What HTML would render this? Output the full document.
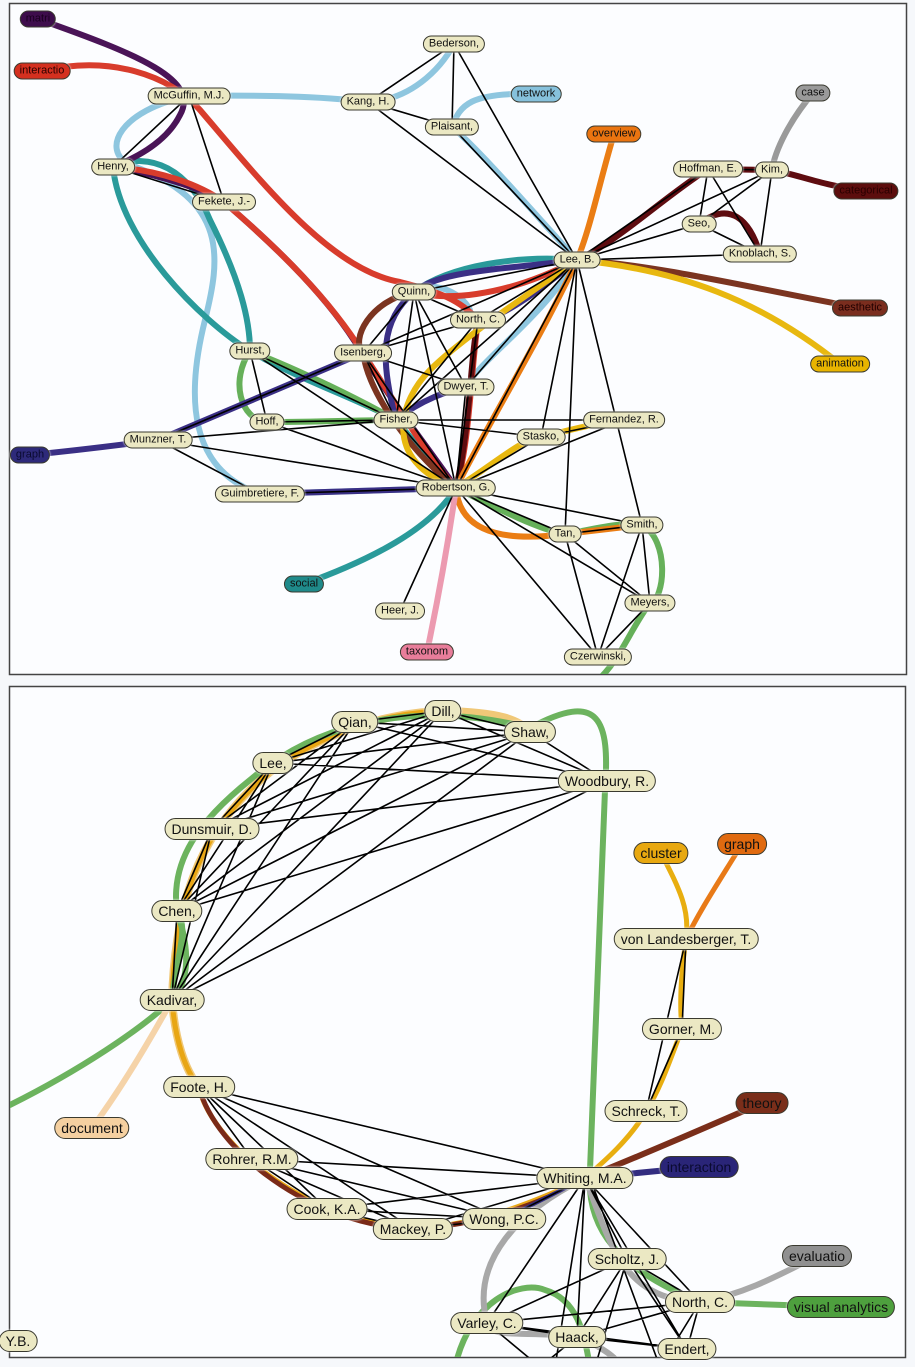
<!DOCTYPE html>
<html><head><meta charset="utf-8"><style>
html,body{margin:0;padding:0;background:#f6f8fb;width:915px;height:1367px;overflow:hidden;position:relative;font-family:"Liberation Sans",sans-serif}
svg{position:absolute;left:0;top:0}
.n{position:absolute;transform:translate(-50%,-50%);background:#ebe8c3;border:1.5px solid #3a3a30;border-radius:10px;padding:1px 5px;font-size:11px;line-height:13px;white-space:nowrap;color:#111;box-shadow:0 0 2px #fff}
.b{font-size:14px;line-height:18px;padding:1px 6px;border-radius:12px}
</style></head><body>
<svg width="915" height="1367" viewBox="0 0 915 1367">
<defs>
<clipPath id="c1"><rect x="10" y="4" width="896" height="670"/></clipPath>
<clipPath id="c2"><rect x="10" y="687" width="895" height="670"/></clipPath>
</defs>
<rect x="9.5" y="3.5" width="897" height="671" fill="#fcfdff" stroke="#444" stroke-width="1.5"/>
<rect x="9.5" y="686.5" width="896" height="671" fill="#fcfdff" stroke="#444" stroke-width="1.5"/>
<g clip-path="url(#c1)" fill="none" stroke-linecap="round">
<g stroke="#8ec6df" stroke-width="6">
<path d="M189,96 C260,95 320,96 368,102 C410,100 440,70 454,44"/>
<path d="M536,94 C470,92 460,105 452,127 C480,150 540,220 577,260"/>
<path d="M189,96 C120,110 100,150 130,165 C230,200 220,260 205,320 C185,400 190,470 260,494 L456,488"/>
<path d="M577,260 C540,320 480,360 466,387"/>
<path d="M414,292 C430,280 460,290 470,310"/>
</g>
<g stroke="#2a9a9a" stroke-width="6">
<path d="M113,167 C150,150 190,170 210,220 C240,280 250,320 250,351 C300,380 360,400 396,420 C420,450 440,470 456,488"/>
<path d="M113,167 C120,240 200,320 250,351"/>
<path d="M414,292 C450,265 520,255 577,260"/>
<path d="M304,584 C370,560 430,530 456,488"/>
</g>
<g stroke="#66b05a" stroke-width="6">
<path d="M250,351 C230,380 240,420 267,422 C320,422 360,420 396,420"/>
<path d="M250,351 C300,370 360,400 396,420"/>
<path d="M456,488 C500,510 540,530 565,534 C600,528 620,522 642,525 C670,540 665,600 650,603 C630,630 620,660 598,680"/>
</g>
<path d="M38,19 C140,55 200,80 180,115 C165,145 130,160 113,167 C160,175 200,188 224,202 C280,250 330,300 360,350 C390,400 430,450 456,488" stroke="#4a1457" stroke-width="6"/>
<g stroke="#d83c2c" stroke-width="6">
<path d="M42,71 C110,55 170,75 200,110 C260,180 330,270 400,282 C440,292 460,300 478,320 C470,380 470,440 456,488"/>
<path d="M113,167 C160,170 200,185 224,202 C280,250 330,300 363,353 C400,410 430,460 456,488"/>
<path d="M414,292 C440,300 500,300 577,260"/>
</g>
<g stroke="#7b3420" stroke-width="6">
<path d="M860,308 C760,290 660,265 577,260"/>
<path d="M414,292 C370,300 350,340 363,353 C370,400 420,460 456,488"/>
</g>
<g stroke="#5e0c10" stroke-width="6">
<path d="M866,191 C820,185 800,175 772,170 L708,169 C660,200 620,240 577,260"/>
<path d="M699,224 C730,200 750,220 760,254"/>
<path d="M478,320 C470,360 470,430 456,488"/>
</g>
<g stroke="#3a2f85" stroke-width="6">
<path d="M30,455 C80,450 120,445 158,440 C230,410 300,380 363,353"/>
<path d="M260,494 L456,488"/>
<path d="M577,260 C500,270 440,270 414,292 C380,320 380,360 396,420 C420,400 450,390 466,387"/>
<path d="M577,260 C540,290 500,320 478,320"/>
</g>
<g stroke="#ea7d14" stroke-width="6">
<path d="M614,134 C600,180 590,230 577,260 C540,340 490,420 456,488 C460,540 520,540 565,534 L642,525"/>
</g>
<g stroke="#e8b810" stroke-width="6">
<path d="M840,364 C760,300 680,270 577,260 C520,300 460,340 430,370 C400,400 380,460 456,488 C500,460 520,440 541,437 C570,430 600,422 624,420"/>
</g>
<path d="M427,652 C440,590 450,530 456,488" stroke="#ec9ab0" stroke-width="6"/>
<path d="M813,93 C790,120 775,150 772,170" stroke="#9a9a9a" stroke-width="6"/>
<path stroke="#000" stroke-width="1.6" d="M189,96L113,167M189,96L224,202M113,167L224,202M368,102L454,44M368,102L452,127M368,102L577,260M454,44L452,127M454,44L577,260M452,127L577,260
M708,169L772,170M708,169L699,224M708,169L760,254M772,170L699,224M772,170L760,254M699,224L760,254M708,169L577,260M772,170L577,260M699,224L577,260M760,254L577,260
M577,260L414,292M577,260L478,320M577,260L363,353M577,260L466,387M577,260L396,420M577,260L456,488M577,260L541,437M577,260L565,534M577,260L642,525
M414,292L478,320M414,292L363,353M414,292L396,420M414,292L466,387M414,292L456,488M478,320L363,353M478,320L396,420M478,320L456,488M363,353L466,387M363,353L396,420M363,353L456,488
M250,351L267,422M250,351L396,420M250,351L456,488M267,422L396,420M267,422L456,488M158,440L363,353M158,440L456,488M158,440L396,420M158,440L260,494
M396,420L456,488M396,420L624,420M396,420L541,437M541,437L624,420M541,437L456,488M624,420L456,488M466,387L456,488M260,494L456,488
M456,488L400,611M456,488L565,534M456,488L642,525M456,488L650,603M456,488L598,657M565,534L642,525M565,534L650,603M565,534L598,657M642,525L650,603M642,525L598,657M650,603L598,657"/>
</g>
<g clip-path="url(#c2)" fill="none" stroke-linecap="round">
<path d="M443,711 C380,712 300,740 250,790 C200,840 175,900 172,1000 C175,1040 185,1070 199,1087" stroke="#f0c878" stroke-width="8"/>
<path d="M443,711 C380,712 300,740 250,790 C200,840 175,900 172,1000 C175,1040 185,1070 199,1087 C210,1140 300,1220 413,1229 C480,1225 540,1200 585,1178" stroke="#e8a614" stroke-width="5"/>
<path d="M199,1087 C215,1150 310,1225 413,1229 C480,1225 540,1205 585,1178" stroke="#7a2a18" stroke-width="5"/>
<path d="M443,711 C500,712 520,720 530,732" stroke="#f0c878" stroke-width="8"/>
<g stroke="#6cb35e" stroke-width="6">
<path d="M10,1105 C80,1070 140,1030 172,1000 C175,960 190,930 177,911 C170,860 200,820 250,780 C320,720 420,700 530,728 C600,690 610,720 605,790 L590,1170 C585,1230 620,1270 700,1302 L841,1307"/>
<path d="M177,911 C190,950 190,980 172,1000"/>
<path d="M455,1367 C470,1300 520,1280 545,1290 C580,1300 585,1340 590,1367"/>
</g>
<path d="M92,1128 C120,1090 150,1040 172,1000" stroke="#f5d3a8" stroke-width="6"/>
<g stroke="#a8a8a8" stroke-width="6">
<path d="M817,1256 C770,1280 740,1295 700,1302 C620,1300 610,1240 585,1178"/>
<path d="M585,1178 C520,1210 470,1260 487,1323 C490,1340 530,1330 577,1337 C600,1345 620,1360 620,1367"/>
</g>
<path d="M661,853 C680,890 690,910 686,939 C680,980 680,1010 682,1029 C670,1060 660,1090 646,1111 C630,1140 600,1165 585,1178" stroke="#e8ae10" stroke-width="5"/>
<path d="M742,844 C720,880 700,910 686,939" stroke="#e87a18" stroke-width="5"/>
<path d="M762,1103 C700,1130 630,1160 585,1178" stroke="#7a2e1a" stroke-width="6"/>
<path d="M699,1167 L585,1178" stroke="#332d80" stroke-width="6"/>
<path d="M585,1178 L504,1219" stroke="#332d80" stroke-width="4"/>
<path stroke="#000" stroke-width="1.6" d="M355,722L443,711M355,722L530,732M355,722L273,763M355,722L607,781M355,722L212,829M355,722L177,911M355,722L172,1000
M443,711L530,732M443,711L273,763M443,711L607,781M443,711L212,829M443,711L177,911M443,711L172,1000
M530,732L273,763M530,732L607,781M530,732L212,829M530,732L177,911M530,732L172,1000
M273,763L607,781M273,763L212,829M273,763L177,911M273,763L172,1000
M607,781L212,829M607,781L177,911M607,781L172,1000M212,829L177,911M212,829L172,1000M177,911L172,1000
M686,939L682,1029M686,939L646,1111M682,1029L646,1111
M199,1087L252,1159M199,1087L327,1209M199,1087L413,1229M199,1087L504,1219M199,1087L585,1178
M252,1159L327,1209M252,1159L413,1229M252,1159L504,1219M252,1159L585,1178M327,1209L413,1229M327,1209L504,1219M327,1209L585,1178M413,1229L504,1219M413,1229L585,1178M504,1219L585,1178
M585,1178L627,1259M585,1178L700,1302M585,1178L487,1323M585,1178L577,1337M585,1178L687,1349M585,1178L555,1367M590,1178L660,1367
M627,1259L487,1323M627,1259L700,1302M627,1259L577,1337M627,1259L687,1349M627,1259L595,1367M487,1323L700,1302M487,1323L577,1337M487,1323L687,1349M487,1323L540,1367
M700,1302L577,1337M700,1302L687,1349M700,1302L660,1367M577,1337L687,1349M577,1337L540,1367"/>
</g>
</svg>

<div class="n" style="left:38px;top:19px;background:#3e0d4c;color:#1a0020">matri</div>
<div class="n" style="left:42px;top:71px;background:#d4301f;color:#2a0000">interactio</div>
<div class="n" style="left:189px;top:96px">McGuffin, M.J.</div>
<div class="n" style="left:368px;top:102px">Kang, H.</div>
<div class="n" style="left:454px;top:44px">Bederson,</div>
<div class="n" style="left:452px;top:127px">Plaisant,</div>
<div class="n" style="left:536px;top:94px;background:#86c1dc">network</div>
<div class="n" style="left:813px;top:93px;background:#9a9a9a">case</div>
<div class="n" style="left:614px;top:134px;background:#ea7410">overview</div>
<div class="n" style="left:708px;top:169px">Hoffman, E.</div>
<div class="n" style="left:772px;top:170px">Kim,</div>
<div class="n" style="left:866px;top:191px;background:#5c0d0d;color:#2a0000">categorical</div>
<div class="n" style="left:699px;top:224px">Seo,</div>
<div class="n" style="left:760px;top:254px">Knoblach, S.</div>
<div class="n" style="left:577px;top:260px">Lee, B.</div>
<div class="n" style="left:860px;top:308px;background:#7a2d1e;color:#200">aesthetic</div>
<div class="n" style="left:840px;top:364px;background:#e8b400">animation</div>
<div class="n" style="left:113px;top:167px">Henry,</div>
<div class="n" style="left:224px;top:202px">Fekete, J.-</div>
<div class="n" style="left:414px;top:292px">Quinn,</div>
<div class="n" style="left:478px;top:320px">North, C.</div>
<div class="n" style="left:363px;top:353px">Isenberg,</div>
<div class="n" style="left:250px;top:351px">Hurst,</div>
<div class="n" style="left:466px;top:387px">Dwyer, T.</div>
<div class="n" style="left:267px;top:422px">Hoff,</div>
<div class="n" style="left:396px;top:420px">Fisher,</div>
<div class="n" style="left:624px;top:420px">Fernandez, R.</div>
<div class="n" style="left:541px;top:437px">Stasko,</div>
<div class="n" style="left:158px;top:440px">Munzner, T.</div>
<div class="n" style="left:30px;top:455px;background:#2e2a7a;color:#0a0a30">graph</div>
<div class="n" style="left:260px;top:494px">Guimbretiere, F.</div>
<div class="n" style="left:456px;top:488px">Robertson, G.</div>
<div class="n" style="left:565px;top:534px">Tan,</div>
<div class="n" style="left:642px;top:525px">Smith,</div>
<div class="n" style="left:304px;top:584px;background:#1f8a8a">social</div>
<div class="n" style="left:400px;top:611px">Heer, J.</div>
<div class="n" style="left:650px;top:603px">Meyers,</div>
<div class="n" style="left:427px;top:652px;background:#e87d9a">taxonom</div>
<div class="n" style="left:598px;top:657px">Czerwinski,</div>

<div class="n b" style="left:355px;top:722px">Qian,</div>
<div class="n b" style="left:443px;top:711px">Dill,</div>
<div class="n b" style="left:530px;top:732px">Shaw,</div>
<div class="n b" style="left:273px;top:763px">Lee,</div>
<div class="n b" style="left:607px;top:781px">Woodbury, R.</div>
<div class="n b" style="left:212px;top:829px">Dunsmuir, D.</div>
<div class="n b" style="left:177px;top:911px">Chen,</div>
<div class="n b" style="left:172px;top:1000px">Kadivar,</div>
<div class="n b" style="left:661px;top:853px;background:#e8a810">cluster</div>
<div class="n b" style="left:742px;top:844px;background:#e06a10">graph</div>
<div class="n b" style="left:686px;top:939px">von Landesberger, T.</div>
<div class="n b" style="left:682px;top:1029px">Gorner, M.</div>
<div class="n b" style="left:199px;top:1087px">Foote, H.</div>
<div class="n b" style="left:92px;top:1128px;background:#f5d0a0">document</div>
<div class="n b" style="left:646px;top:1111px">Schreck, T.</div>
<div class="n b" style="left:762px;top:1103px;background:#7a2e1a">theory</div>
<div class="n b" style="left:252px;top:1159px">Rohrer, R.M.</div>
<div class="n b" style="left:585px;top:1178px">Whiting, M.A.</div>
<div class="n b" style="left:699px;top:1167px;background:#2a2578;color:#0a0a30">interaction</div>
<div class="n b" style="left:327px;top:1209px">Cook, K.A.</div>
<div class="n b" style="left:413px;top:1229px">Mackey, P.</div>
<div class="n b" style="left:504px;top:1219px">Wong, P.C.</div>
<div class="n b" style="left:817px;top:1256px;background:#909090">evaluatio</div>
<div class="n b" style="left:627px;top:1259px">Scholtz, J.</div>
<div class="n b" style="left:700px;top:1302px">North, C.</div>
<div class="n b" style="left:841px;top:1307px;background:#4ea03e">visual analytics</div>
<div class="n b" style="left:487px;top:1323px">Varley, C.</div>
<div class="n b" style="left:577px;top:1337px">Haack,</div>
<div class="n b" style="left:687px;top:1349px">Endert,</div>
<div class="n b" style="left:18px;top:1341px">Y.B.</div>
</body></html>
